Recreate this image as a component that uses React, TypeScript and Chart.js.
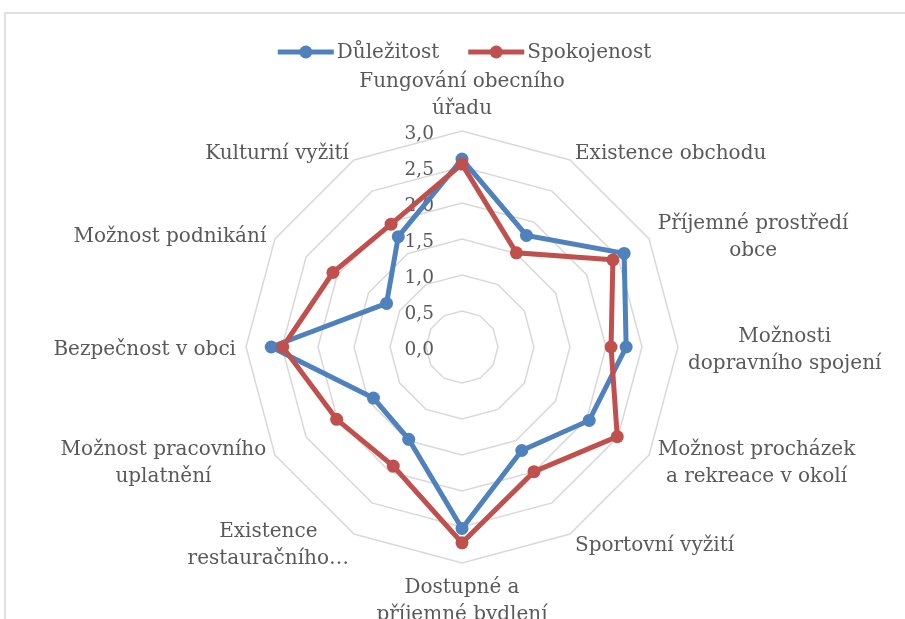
import React, { useEffect, useRef } from "react";
import { Chart, registerables } from "chart.js";

Chart.register(...registerables);

// ---- data ----
const categories: string[][] = [
  ["Fungování obecního", "úřadu"],
  ["Existence obchodu"],
  ["Příjemné prostředí", "obce"],
  ["Možnosti", "dopravního spojení"],
  ["Možnost procházek", "a rekreace v okolí"],
  ["Sportovní vyžití"],
  ["Dostupné a", "příjemné bydlení"],
  ["Existence", "restauračního…"],
  ["Možnost pracovního", "uplatnění"],
  ["Bezpečnost v obci"],
  ["Možnost podnikání"],
  ["Kulturní vyžití"],
];
const seriesNames = ["Důležitost", "Spokojenost"];
const importance = [2.61, 1.79, 2.6, 2.28, 2.04, 1.66, 2.52, 1.48, 1.42, 2.65, 1.21, 1.77];
const satisfaction = [2.54, 1.51, 2.42, 2.07, 2.49, 2.0, 2.72, 1.91, 2.01, 2.49, 2.07, 1.97];
const axisMin = 0;
const axisMax = 3;
const axisStep = 0.5;

// ---- style ----
const FONT = '"DejaVu Serif", serif';
const TEXT = "#595959";
const BLUE = "#4F81BD";
const RED = "#C0504D";
const GRID = "#d9d9d9";

const fmt = (v: number) => v.toFixed(1).replace(".", ",");

const textPlugin = {
  id: "excelText",
  beforeDatasetsDraw(chart: any) {
    const scale = chart.scales.r;
    const ctx = chart.ctx as CanvasRenderingContext2D;
    ctx.save();
    ctx.font = `18.5px ${FONT}`;
    ctx.fillStyle = TEXT;
    ctx.textAlign = "right";
    ctx.textBaseline = "middle";
    scale.ticks.forEach((t: any) => {
      const d = scale.getDistanceFromCenterForValue(t.value);
      ctx.fillText(fmt(t.value), scale.xCenter - 28, scale.yCenter - d + 3);
    });
    ctx.restore();
  },
  afterDraw(chart: any) {
    const scale = chart.scales.r;
    const ctx = chart.ctx as CanvasRenderingContext2D;
    ctx.save();
    ctx.font = `20px ${FONT}`;
    ctx.fillStyle = TEXT;
    ctx.textBaseline = "middle";
    ctx.textAlign = "center";
    const lh = 27;
    (chart.data.labels as any[]).forEach((lab, i) => {
      const lines: string[] = Array.isArray(lab) ? lab : [lab];
      const p = scale.getPointPosition(i, scale.drawingArea + 10);
      const w = Math.max(...lines.map((l) => ctx.measureText(l).width));
      const h = lines.length * lh;
      const dx = p.x - scale.xCenter;
      let cx = p.x;
      if (dx > 1) cx = p.x + w / 2;
      else if (dx < -1) cx = p.x - w / 2;
      let top;
      if (Math.abs(dx) <= 1) top = p.y < scale.yCenter ? p.y - h : p.y;
      else top = p.y - h / 2 + 2;
      lines.forEach((l, k) => ctx.fillText(l, cx, top + lh * k + lh / 2 + 1));
    });

    // legend
    const ds = chart.data.datasets as any[];
    const lineLen = 56;
    const gap = 3;
    const itemGap = 29;
    const widths = ds.map((d) => ctx.measureText(d.label).width);
    let total = 0;
    widths.forEach((tw, k) => {
      total += lineLen + gap + tw + (k < widths.length - 1 ? itemGap : 0);
    });
    let x = scale.xCenter + 2.5 - total / 2;
    const y = 52;
    ds.forEach((d, k) => {
      ctx.strokeStyle = d.borderColor;
      ctx.lineWidth = 5;
      ctx.beginPath();
      ctx.moveTo(x, y);
      ctx.lineTo(x + lineLen, y);
      ctx.stroke();
      ctx.fillStyle = d.borderColor;
      ctx.beginPath();
      ctx.arc(x + lineLen / 2, y, 6.5, 0, Math.PI * 2);
      ctx.fill();
      ctx.fillStyle = TEXT;
      ctx.textAlign = "left";
      ctx.fillText(d.label, x + lineLen + gap, y + 1);
      x += lineLen + gap + widths[k] + itemGap;
    });
    ctx.restore();
  },
};

export default function App() {
  const ref = useRef<HTMLCanvasElement | null>(null);
  useEffect(() => {
    if (!ref.current) return;
    const mk = (label: string, data: number[], color: string, order: number) => ({
      label,
      data,
      borderColor: color,
      backgroundColor: color,
      pointBackgroundColor: color,
      pointBorderColor: color,
      pointBorderWidth: 0,
      pointRadius: 6.5,
      borderWidth: 5,
      fill: false,
      order,
    });
    const chart = new Chart(ref.current, {
      type: "radar",
      data: {
        labels: categories,
        datasets: [
          mk(seriesNames[0], importance, BLUE, 1),
          mk(seriesNames[1], satisfaction, RED, 0),
        ],
      },
      options: {
        responsive: false,
        animation: false,
        layout: { padding: { left: 246, right: 227, top: 131, bottom: 137 } },
        plugins: { legend: { display: false }, tooltip: { enabled: false } },
        elements: { line: { tension: 0 } },
        scales: {
          r: {
            min: axisMin,
            max: axisMax,
            ticks: { stepSize: axisStep, display: false },
            grid: { color: GRID, lineWidth: 1.5 },
            angleLines: { display: false },
            pointLabels: { display: false },
          },
        },
      },
      plugins: [textPlugin],
    } as any);
    return () => chart.destroy();
  }, []);

  return (
    <div style={{ position: "absolute", left: 0, top: 0, width: 905, height: 619, overflow: "hidden", background: "#fff" }}>
      <div
        style={{
          position: "absolute",
          left: 4,
          top: 12,
          width: 960,
          height: 700,
          border: "2px solid #e0e0e0",
          boxSizing: "border-box",
        }}
      />
      <canvas ref={ref} width={905} height={700} style={{ position: "absolute", left: 0, top: 0, width: 905, height: 700 }} />
    </div>
  );
}
